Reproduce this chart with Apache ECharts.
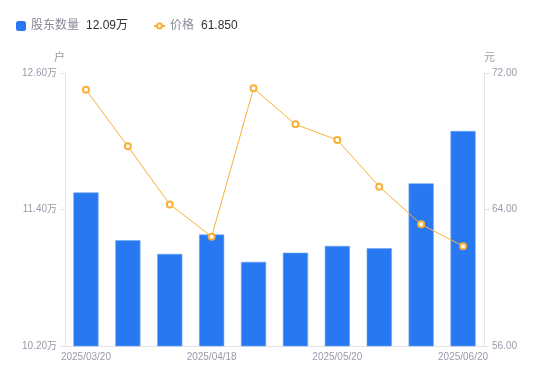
<!DOCTYPE html>
<html><head><meta charset="utf-8">
<script src="https://cdn.jsdelivr.net/npm/echarts@6/dist/echarts.min.js"></script>
<style>html,body{margin:0;padding:0;background:#fff}#c{width:550px;height:381px}</style>
</head><body><div id="c"></div>
<script>
const categories = ['2025/03/20','2025/03/31','2025/04/10','2025/04/18','2025/04/30','2025/05/09','2025/05/20','2025/05/30','2025/06/10','2025/06/20'];
const holders = [11.55, 11.13, 11.01, 11.18, 10.94, 11.02, 11.08, 11.06, 11.63, 12.09];
const prices = [71.02, 67.70, 64.30, 62.41, 71.10, 68.99, 68.07, 65.34, 63.13, 61.85];
const leftTicks = {min: 10.2, max: 12.6, interval: 1.2};
const rightTicks = {min: 56, max: 72, interval: 8};

const chart = echarts.init(document.getElementById('c'));
const font = 'Arial, "Liberation Sans", "Noto Sans CJK SC", sans-serif';
const legendVals = {'股东数量': holders[holders.length-1].toFixed(2) + '万', '价格': prices[prices.length-1].toFixed(3)};
const legendText = {rich: {
  n: {color: '#8a8a99', fontSize: 12, fontFamily: font},
  g: {width: 7},
  v: {color: '#333', fontSize: 12, fontFamily: font}}};
const legendFmt = n => '{n|' + n + '}{g|}{v|' + legendVals[n] + '}';
chart.setOption({
  animation: false,
  textStyle: {fontFamily: font},
  legend: [{
    left: 11, top: 15, itemWidth: 10, itemHeight: 10,
    data: [{name: '股东数量', icon: 'roundRect', itemStyle: {borderWidth: 0}}],
    formatter: legendFmt, textStyle: legendText
  }, {
    left: 148, top: 15, itemWidth: 11, itemHeight: 6,
    data: [{name: '价格'}],
    formatter: legendFmt, textStyle: legendText
  }],
  grid: {left: 65, right: 66, top: 73, bottom: 35},
  xAxis: {
    type: 'category', data: categories,
    axisLine: {lineStyle: {color: '#e3e3e8'}},
    axisTick: {show: false},
    axisLabel: {interval: 2, color: '#9a9aaa', fontSize: 10, margin: 6}
  },
  yAxis: [{
    type: 'value', name: '户', min: leftTicks.min, max: leftTicks.max, interval: leftTicks.interval,
    nameTextStyle: {color: '#9a9aaa', fontSize: 11, align: 'right'},
    nameGap: 10,
    axisLine: {show: true, lineStyle: {color: '#e3e3e8'}},
    axisTick: {show: true, length: 5, lineStyle: {color: '#e3e3e8'}},
    splitLine: {show: false},
    axisLabel: {color: '#9a9aaa', fontSize: 10, margin: 8, formatter: v => v.toFixed(2) + '万'}
  }, {
    type: 'value', name: '元', min: rightTicks.min, max: rightTicks.max, interval: rightTicks.interval,
    nameTextStyle: {color: '#9a9aaa', fontSize: 11, align: 'left'},
    nameGap: 10,
    axisLine: {show: true, lineStyle: {color: '#e3e3e8'}},
    axisTick: {show: true, length: 5, lineStyle: {color: '#e3e3e8'}},
    splitLine: {show: false},
    axisLabel: {color: '#9a9aaa', fontSize: 10, margin: 8, formatter: v => v.toFixed(2)}
  }],
  series: [{
    name: '股东数量', type: 'bar', data: holders, barWidth: '60%', yAxisIndex: 0,
    itemStyle: {color: '#2878F2', borderColor: '#6ea4f5', borderWidth: 0.6}
  }, {
    name: '价格', type: 'line', data: prices, yAxisIndex: 1,
    symbol: 'emptyCircle', symbolSize: 6,
    lineStyle: {color: '#F8B038', width: 1},
    itemStyle: {color: '#F8B038', borderWidth: 1.5}
  }]
});
</script></body></html>
